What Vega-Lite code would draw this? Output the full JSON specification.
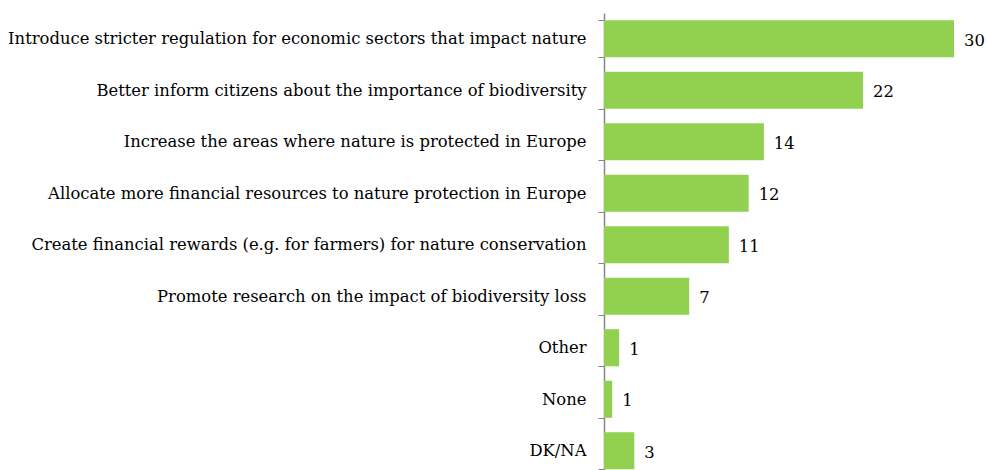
{
  "$schema": "https://vega.github.io/schema/vega-lite/v6.json",
  "autosize": {"type": "none"},
  "padding": {"left": 604, "top": 13, "right": 34, "bottom": 0},
  "width": 350,
  "height": 463.5,
  "background": "white",
  "config": {"view": {"stroke": null}},
  "data": {
    "values": [
      {"item": "Introduce stricter regulation for economic sectors that impact nature", "value": 30},
      {"item": "Better inform citizens about the importance of biodiversity", "value": 22.2},
      {"item": "Increase the areas where nature is protected in Europe", "value": 13.7},
      {"item": "Allocate more financial resources to nature protection in Europe", "value": 12.4},
      {"item": "Create financial rewards (e.g. for farmers) for nature conservation", "value": 10.7},
      {"item": "Promote research on the impact of biodiversity loss", "value": 7.3},
      {"item": "Other", "value": 1.3},
      {"item": "None", "value": 0.7},
      {"item": "DK/NA", "value": 2.6}
    ]
  },
  "encoding": {
    "y": {
      "field": "item",
      "type": "nominal",
      "sort": null,
      "scale": {"paddingInner": 0.28, "paddingOuter": 0.14},
      "axis": {
        "title": null,
        "tickBand": "extent",
        "domainColor": "#868686",
        "domainWidth": 1.5,
        "tickColor": "#868686",
        "tickWidth": 1,
        "tickSize": 6,
        "labelPadding": 12,
        "labelFont": "DejaVu Serif",
        "labelFontSize": 16.4,
        "labelColor": "#000000",
        "labelLimit": 700
      }
    },
    "x": {
      "field": "value",
      "type": "quantitative",
      "scale": {"domain": [0, 30], "nice": false, "zero": true},
      "axis": null
    }
  },
  "layer": [
    {"mark": {"type": "bar", "color": "#92D050"}},
    {
      "mark": {"type": "text", "align": "left", "baseline": "middle", "dx": 10, "dy": 2, "font": "DejaVu Serif", "fontSize": 16.4, "color": "#000000"},
      "encoding": {"text": {"field": "value", "type": "quantitative", "format": ".0f"}}
    }
  ]
}
